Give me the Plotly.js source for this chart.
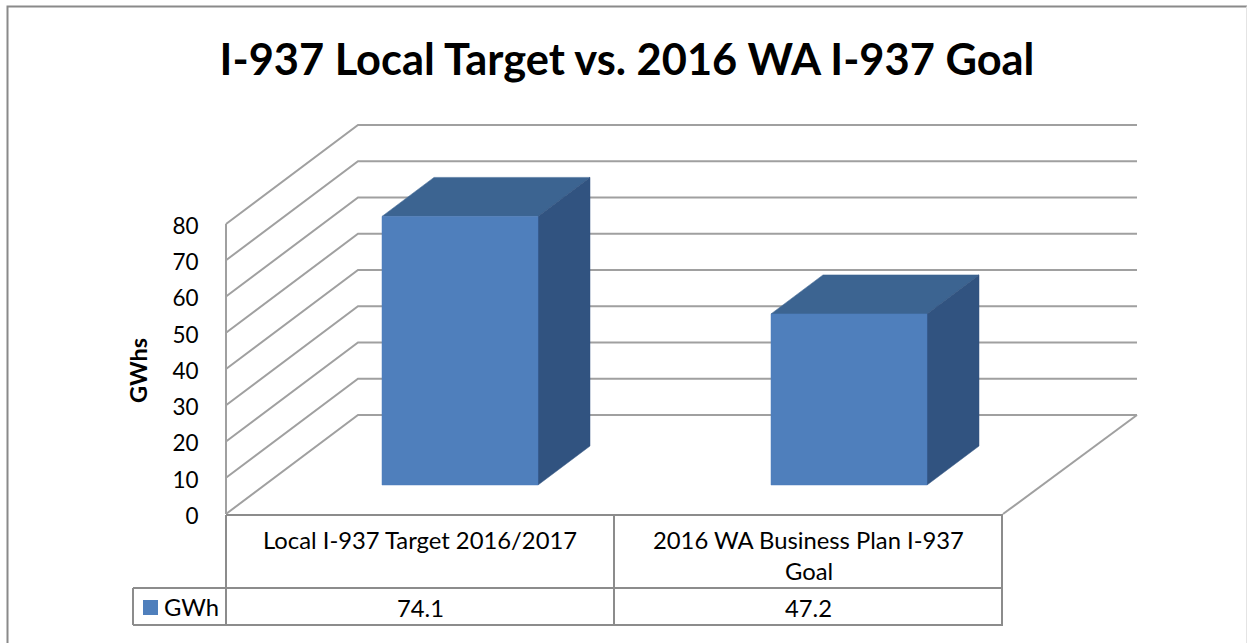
<!DOCTYPE html>
<html>
<head>
<meta charset="utf-8">
<script src="https://cdn.plot.ly/plotly-3.0.1.min.js"></script>
<style>html,body{margin:0;padding:0;background:#fff;overflow:hidden}#chart{width:1247px;height:643px}</style>
</head>
<body>
<div id="chart"></div>
<script>
// ---- data ----
const chartTitle = "I-937 Local Target vs. 2016 WA I-937 Goal";
const yAxisTitle = "GWhs";
const seriesName = "GWh";
const categoryLines = [["Local I-937 Target 2016/2017"], ["2016 WA Business Plan I-937", "Goal"]];
const gwhValues = [74.1, 47.2];
const yTicks = [0, 10, 20, 30, 40, 50, 60, 70, 80];

// ---- styles ----
const FONT = "Lato, 'Noto Sans', sans-serif";
const GRID = "#a0a0a0", TABLE = "#8c8c8c", BORDER = "#8a8a8a";
const FRONT = "#4f7fbc", TOP = "#3c6491", SIDE = "#315380";

// ---- scene geometry: the x axis is laid out in scene units, the y axis in GWh ----
const W = 1247, H = 643;
const ZERO_ROW = 514, ROW_PER_GWH = 3.625;        // row of value 0 on the front plane
const toY = row => (ZERO_ROW - row) / ROW_PER_GWH; // row measured from page top -> GWh axis
const WALL_DX = 132, WALL_DY = 99 / ROW_PER_GWH;   // depth of the chart box
const BAR_DX = 52, BAR_DY = 39 / ROW_PER_GWH;      // depth of a bar
const BAR_FLOOR = toY(485);                        // bar foot, on the floor plane
const LEFT = 226, FRONT_RIGHT = 1003, MID = 614, WALL_RIGHT = 1137;
const BAR_W = 156, BAR_LEFT = [382, 771];

const traces = [];
function line(xs, ys, color, width) {
  traces.push({x: xs, y: ys, type: "scatter", mode: "lines", hoverinfo: "skip", showlegend: false,
               line: {color: color, width: width}});
}
function face(xs, ys, color, name) {
  traces.push({x: xs, y: ys, type: "scatter", mode: "lines", fill: "toself", fillcolor: color,
               line: {color: color, width: 0.5}, name: name, showlegend: false, hoverinfo: "skip"});
}

// walls
yTicks.forEach(v => {
  const backY = v + WALL_DY;
  line([LEFT, LEFT + WALL_DX, WALL_RIGHT], [v, backY, backY], GRID, 2);
});
line([LEFT, LEFT], [0, yTicks[yTicks.length - 1]], GRID, 2);
line([WALL_RIGHT, FRONT_RIGHT], [WALL_DY, 0], GRID, 2);

// bars, from the values
gwhValues.forEach((v, i) => {
  const x0 = BAR_LEFT[i], x1 = x0 + BAR_W;
  const top = BAR_FLOOR + v;
  face([x0, x1, x1 + BAR_DX, x0 + BAR_DX, x0], [top, top, top + BAR_DY, top + BAR_DY, top], TOP, categoryLines[i].join(" "));
  face([x1, x1 + BAR_DX, x1 + BAR_DX, x1, x1], [BAR_FLOOR, BAR_FLOOR + BAR_DY, top + BAR_DY, top, BAR_FLOOR], SIDE, categoryLines[i].join(" "));
  face([x0, x1, x1, x0, x0], [BAR_FLOOR, BAR_FLOOR, top, top, BAR_FLOOR], FRONT, categoryLines[i].join(" "));
});

// data table
const ROW_A = 515, ROW_B = 588, ROW_C = 625, TABLE_LEFT = 133;
line([LEFT, FRONT_RIGHT], [toY(ROW_A), toY(ROW_A)], TABLE, 2);
line([TABLE_LEFT, FRONT_RIGHT], [toY(ROW_B), toY(ROW_B)], TABLE, 2);
line([TABLE_LEFT, FRONT_RIGHT], [toY(ROW_C), toY(ROW_C)], TABLE, 2);
line([TABLE_LEFT, TABLE_LEFT], [toY(ROW_B), toY(ROW_C)], TABLE, 2);
[LEFT, MID, FRONT_RIGHT - 1].forEach(x => line([x, x], [toY(ROW_A), toY(ROW_C)], TABLE, 2));

// legend key
traces.push({x: [150.5], y: [toY(607.5)], type: "scatter", mode: "markers", hoverinfo: "skip", showlegend: false,
             name: seriesName, marker: {symbol: "square", size: 15, color: FRONT}});

// frame
line([7.5, 7.5, W], [toY(H), toY(6.5), toY(6.5)], BORDER, 2);
line([W - 0.5, W - 0.5], [toY(6.5), toY(H)], "#e4e4e4", 1);

const TEXT = 23.8;
const annotations = [];
function label(text, x, row, opts) {
  annotations.push(Object.assign({text: text, x: x, y: toY(row), xref: "x", yref: "y", showarrow: false,
    xanchor: "center", yanchor: "middle", font: {family: FONT, size: TEXT, color: "#000"}}, opts || {}));
}
const colCentres = [(LEFT + MID) / 2, (MID + FRONT_RIGHT) / 2];
categoryLines.forEach((lines, i) => lines.forEach((t, j) => label(t, colCentres[i], 540 + 31 * j)));
gwhValues.forEach((v, i) => label(v.toFixed(1), colCentres[i], 608));
label(seriesName, 191, 607);
label(yAxisTitle, 138, 371, {textangle: -90, font: {family: FONT, size: 23.5, color: "#000", weight: "bold"}});

const layout = {
  width: W, height: H,
  margin: {l: 0, r: 0, t: 0, b: 0, pad: 0},
  paper_bgcolor: "#fff", plot_bgcolor: "#fff",
  showlegend: false,
  title: {text: "<b>" + chartTitle + "</b>", x: 627 / W, xanchor: "center", xref: "paper",
          y: 1 - 60 / H, yanchor: "middle", yref: "paper", automargin: false,
          font: {family: FONT, size: 43.4, color: "#000"}},
  xaxis: {range: [0, W], visible: false, fixedrange: true},
  yaxis: {range: [toY(H), toY(0)], fixedrange: true, anchor: "free", position: LEFT / W,
          showgrid: false, zeroline: false, showline: false,
          tickmode: "array", tickvals: yTicks, ticks: "outside", ticklen: 23, tickcolor: "rgba(0,0,0,0)",
          ticklabelshift: 2,
          tickfont: {family: FONT, size: 22.5, color: "#000"}},
  annotations: annotations
};
Plotly.newPlot("chart", traces, layout, {displayModeBar: false, staticPlot: true});
</script>
</body>
</html>
